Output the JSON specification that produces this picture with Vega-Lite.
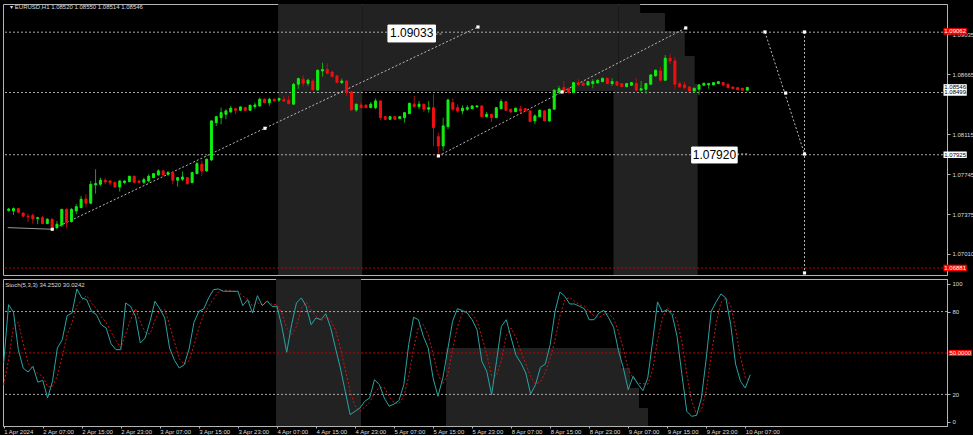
{
"$schema":"https://vega.github.io/schema/vega-lite/v6.json",
"background":"#000000",
"padding":{"left":1,"top":3,"right":0,"bottom":0},
"spacing":2,
"config":{"view":{"stroke":"#b4b4b4","strokeWidth":1},"axis":{"labelFont":"Liberation Sans","labelFontSize":6,"labelColor":"#dcdcdc","tickColor":"#b4b4b4","domainColor":"#b4b4b4","tickSize":3,"labelPadding":2,"grid":false,"title":null},"text":{"font":"Liberation Sans"}},
"datasets":{
"bars":[
{"i":0,"o":1.07411,"h":1.07434,"l":1.07398,"c":1.07425,"k":42.8,"d":27},
{"i":1,"o":1.07407,"h":1.07439,"l":1.07370,"c":1.07428,"k":85,"d":45},
{"i":2,"o":1.07428,"h":1.07434,"l":1.07388,"c":1.07395,"k":79.5,"d":69.1},
{"i":3,"o":1.07388,"h":1.07393,"l":1.07352,"c":1.07358,"k":52.4,"d":72.3},
{"i":4,"o":1.07358,"h":1.07382,"l":1.07305,"c":1.07352,"k":39,"d":57},
{"i":5,"o":1.07367,"h":1.07382,"l":1.07290,"c":1.07333,"k":36.2,"d":42.5},
{"i":6,"o":1.07336,"h":1.07352,"l":1.07284,"c":1.07345,"k":40.3,"d":38.5},
{"i":7,"o":1.07345,"h":1.07361,"l":1.07284,"c":1.07290,"k":28.8,"d":35.1},
{"i":8,"o":1.07290,"h":1.07340,"l":1.07284,"c":1.07330,"k":30.2,"d":33.1},
{"i":9,"o":1.07330,"h":1.07338,"l":1.07245,"c":1.07259,"k":17.4,"d":25.5},
{"i":10,"o":1.07253,"h":1.07315,"l":1.07238,"c":1.07284,"k":29.5,"d":25.7},
{"i":11,"o":1.07278,"h":1.07425,"l":1.07259,"c":1.07422,"k":53.6,"d":33.5},
{"i":12,"o":1.07422,"h":1.07430,"l":1.07247,"c":1.07299,"k":59.6,"d":47.6},
{"i":13,"o":1.07308,"h":1.07432,"l":1.07301,"c":1.07422,"k":77,"d":63.4},
{"i":14,"o":1.07407,"h":1.07469,"l":1.07376,"c":1.07446,"k":79,"d":71.9},
{"i":15,"o":1.07437,"h":1.07545,"l":1.07432,"c":1.07515,"k":96.4,"d":84.1},
{"i":16,"o":1.07517,"h":1.07561,"l":1.07444,"c":1.07478,"k":89.9,"d":88.4},
{"i":17,"o":1.07478,"h":1.07683,"l":1.07469,"c":1.07653,"k":88.6,"d":91.6},
{"i":18,"o":1.07647,"h":1.07791,"l":1.07566,"c":1.07659,"k":80.2,"d":86.2},
{"i":19,"o":1.07653,"h":1.07714,"l":1.07635,"c":1.07690,"k":77.8,"d":82.2},
{"i":20,"o":1.07690,"h":1.07708,"l":1.07653,"c":1.07674,"k":70.5,"d":76.2},
{"i":21,"o":1.07683,"h":1.07690,"l":1.07644,"c":1.07665,"k":68.1,"d":72.1},
{"i":22,"o":1.07671,"h":1.07677,"l":1.07622,"c":1.07628,"k":56.7,"d":65.1},
{"i":23,"o":1.07628,"h":1.07690,"l":1.07585,"c":1.07683,"k":52.4,"d":59.1},
{"i":24,"o":1.07668,"h":1.07690,"l":1.07653,"c":1.07683,"k":52.4,"d":53.8},
{"i":25,"o":1.07677,"h":1.07730,"l":1.07671,"c":1.07727,"k":86.2,"d":63.7},
{"i":26,"o":1.07727,"h":1.07730,"l":1.07665,"c":1.07671,"k":83.8,"d":74.1},
{"i":27,"o":1.07683,"h":1.07690,"l":1.07665,"c":1.07671,"k":76.6,"d":82.2},
{"i":28,"o":1.07671,"h":1.07714,"l":1.07653,"c":1.07695,"k":57.2,"d":72.5},
{"i":29,"o":1.07683,"h":1.07745,"l":1.07668,"c":1.07727,"k":60.9,"d":64.9},
{"i":30,"o":1.07714,"h":1.07757,"l":1.07708,"c":1.07751,"k":73,"d":63.7},
{"i":31,"o":1.07739,"h":1.07791,"l":1.07730,"c":1.07776,"k":87.5,"d":73.8},
{"i":32,"o":1.07776,"h":1.07782,"l":1.07727,"c":1.07739,"k":81.9,"d":80.8},
{"i":33,"o":1.07745,"h":1.07776,"l":1.07730,"c":1.07760,"k":75.4,"d":81.6},
{"i":34,"o":1.07760,"h":1.07776,"l":1.07653,"c":1.07690,"k":53.6,"d":70.3},
{"i":35,"o":1.07690,"h":1.07720,"l":1.07631,"c":1.07714,"k":44.7,"d":57.9},
{"i":36,"o":1.07699,"h":1.07769,"l":1.07683,"c":1.07720,"k":39.1,"d":45.8},
{"i":37,"o":1.07714,"h":1.07720,"l":1.07647,"c":1.07659,"k":41.5,"d":41.8},
{"i":38,"o":1.07668,"h":1.07769,"l":1.07662,"c":1.07760,"k":52.9,"d":44.5},
{"i":39,"o":1.07751,"h":1.07859,"l":1.07745,"c":1.07843,"k":72.2,"d":55.5},
{"i":40,"o":1.07837,"h":1.07868,"l":1.07730,"c":1.07776,"k":80.2,"d":68.4},
{"i":41,"o":1.07776,"h":1.07889,"l":1.07766,"c":1.07884,"k":81.9,"d":78.1},
{"i":42,"o":1.07877,"h":1.08241,"l":1.07868,"c":1.08237,"k":89.9,"d":84},
{"i":43,"o":1.08221,"h":1.08283,"l":1.08190,"c":1.08276,"k":95.9,"d":89.2},
{"i":44,"o":1.08267,"h":1.08359,"l":1.08206,"c":1.08313,"k":96.4,"d":94.1},
{"i":45,"o":1.08298,"h":1.08344,"l":1.08252,"c":1.08329,"k":94.7,"d":95.7},
{"i":46,"o":1.08320,"h":1.08375,"l":1.08308,"c":1.08354,"k":94.7,"d":95.3},
{"i":47,"o":1.08350,"h":1.08356,"l":1.08298,"c":1.08335,"k":94.7,"d":94.7},
{"i":48,"o":1.08335,"h":1.08370,"l":1.08329,"c":1.08366,"k":94.7,"d":94.7},
{"i":49,"o":1.08359,"h":1.08366,"l":1.08329,"c":1.08335,"k":84.3,"d":91.2},
{"i":50,"o":1.08335,"h":1.08384,"l":1.08329,"c":1.08382,"k":88.6,"d":89.2},
{"i":51,"o":1.08369,"h":1.08406,"l":1.08345,"c":1.08384,"k":79,"d":84},
{"i":52,"o":1.08375,"h":1.08451,"l":1.08369,"c":1.08437,"k":91.5,"d":86.4},
{"i":53,"o":1.08437,"h":1.08443,"l":1.08400,"c":1.08405,"k":84.3,"d":84.9},
{"i":54,"o":1.08405,"h":1.08451,"l":1.08375,"c":1.08437,"k":87.5,"d":87.8},
{"i":55,"o":1.08437,"h":1.08443,"l":1.08415,"c":1.08421,"k":83.8,"d":85.2},
{"i":56,"o":1.08428,"h":1.08451,"l":1.08412,"c":1.08443,"k":83.8,"d":85},
{"i":57,"o":1.08437,"h":1.08467,"l":1.08415,"c":1.08419,"k":69.3,"d":79},
{"i":58,"o":1.08428,"h":1.08467,"l":1.08391,"c":1.08396,"k":50.5,"d":67.9},
{"i":59,"o":1.08391,"h":1.08587,"l":1.08384,"c":1.08575,"k":70.5,"d":63.4},
{"i":60,"o":1.08575,"h":1.08636,"l":1.08532,"c":1.08627,"k":86.2,"d":69.1},
{"i":61,"o":1.08621,"h":1.08658,"l":1.08553,"c":1.08584,"k":89.9,"d":82.2},
{"i":62,"o":1.08584,"h":1.08627,"l":1.08559,"c":1.08612,"k":83.8,"d":86.6},
{"i":63,"o":1.08605,"h":1.08621,"l":1.08518,"c":1.08522,"k":70.5,"d":81.4},
{"i":64,"o":1.08522,"h":1.08710,"l":1.08516,"c":1.08704,"k":75.4,"d":76.6},
{"i":65,"o":1.08698,"h":1.08774,"l":1.08645,"c":1.08710,"k":74.1,"d":73.3},
{"i":66,"o":1.08713,"h":1.08769,"l":1.08667,"c":1.08676,"k":78.4,"d":76},
{"i":67,"o":1.08688,"h":1.08698,"l":1.08642,"c":1.08645,"k":68.5,"d":73.7},
{"i":68,"o":1.08652,"h":1.08661,"l":1.08587,"c":1.08590,"k":53.6,"d":66.8},
{"i":69,"o":1.08590,"h":1.08627,"l":1.08575,"c":1.08605,"k":39.1,"d":53.7},
{"i":70,"o":1.08605,"h":1.08612,"l":1.08467,"c":1.08498,"k":22.2,"d":38.3},
{"i":71,"o":1.08504,"h":1.08513,"l":1.08333,"c":1.08338,"k":5.3,"d":22.2},
{"i":72,"o":1.08338,"h":1.08396,"l":1.08320,"c":1.08391,"k":7.7,"d":11.7},
{"i":73,"o":1.08384,"h":1.08406,"l":1.08356,"c":1.08359,"k":10.1,"d":7.7},
{"i":74,"o":1.08382,"h":1.08391,"l":1.08356,"c":1.08359,"k":15,"d":10.9},
{"i":75,"o":1.08359,"h":1.08412,"l":1.08357,"c":1.08391,"k":17.4,"d":14.2},
{"i":76,"o":1.08359,"h":1.08443,"l":1.08345,"c":1.08421,"k":30.7,"d":21},
{"i":77,"o":1.08421,"h":1.08428,"l":1.08246,"c":1.08267,"k":27,"d":25},
{"i":78,"o":1.08276,"h":1.08283,"l":1.08246,"c":1.08252,"k":17.4,"d":25},
{"i":79,"o":1.08252,"h":1.08283,"l":1.08246,"c":1.08276,"k":11.4,"d":18.6},
{"i":80,"o":1.08276,"h":1.08283,"l":1.08246,"c":1.08252,"k":13,"d":13.9},
{"i":81,"o":1.08259,"h":1.08283,"l":1.08253,"c":1.08276,"k":15.5,"d":13.3},
{"i":82,"o":1.08267,"h":1.08320,"l":1.08221,"c":1.08313,"k":27,"d":18.5},
{"i":83,"o":1.08304,"h":1.08403,"l":1.08301,"c":1.08400,"k":56,"d":32.8},
{"i":84,"o":1.08391,"h":1.08467,"l":1.08359,"c":1.08369,"k":75.9,"d":53},
{"i":85,"o":1.08369,"h":1.08421,"l":1.08345,"c":1.08391,"k":74.1,"d":68.7},
{"i":86,"o":1.08391,"h":1.08394,"l":1.08320,"c":1.08345,"k":62.1,"d":70.7},
{"i":87,"o":1.08345,"h":1.08421,"l":1.08313,"c":1.08359,"k":53.6,"d":63.3},
{"i":88,"o":1.08359,"h":1.08483,"l":1.08006,"c":1.08175,"k":31.9,"d":49.2},
{"i":89,"o":1.08092,"h":1.08129,"l":1.07914,"c":1.08006,"k":18.6,"d":34.7},
{"i":90,"o":1.08006,"h":1.08267,"l":1.07960,"c":1.08191,"k":31.9,"d":27.5},
{"i":91,"o":1.08184,"h":1.08443,"l":1.08160,"c":1.08430,"k":52.4,"d":34.3},
{"i":92,"o":1.08405,"h":1.08443,"l":1.08329,"c":1.08345,"k":73,"d":52.4},
{"i":93,"o":1.08359,"h":1.08391,"l":1.08313,"c":1.08329,"k":82.1,"d":69.2},
{"i":94,"o":1.08329,"h":1.08382,"l":1.08298,"c":1.08354,"k":80.7,"d":78.6},
{"i":95,"o":1.08345,"h":1.08382,"l":1.08329,"c":1.08359,"k":79,"d":80.6},
{"i":96,"o":1.08350,"h":1.08378,"l":1.08345,"c":1.08375,"k":74.1,"d":77.9},
{"i":97,"o":1.08366,"h":1.08382,"l":1.08363,"c":1.08375,"k":66.9,"d":73.3},
{"i":98,"o":1.08375,"h":1.08382,"l":1.08271,"c":1.08276,"k":44,"d":61.7},
{"i":99,"o":1.08276,"h":1.08320,"l":1.08267,"c":1.08298,"k":36.7,"d":49.2},
{"i":100,"o":1.08298,"h":1.08304,"l":1.08227,"c":1.08267,"k":19.8,"d":33.5},
{"i":101,"o":1.08267,"h":1.08366,"l":1.08264,"c":1.08359,"k":44,"d":33.5},
{"i":102,"o":1.08350,"h":1.08437,"l":1.08345,"c":1.08415,"k":69.3,"d":44.4},
{"i":103,"o":1.08415,"h":1.08421,"l":1.08329,"c":1.08335,"k":74.1,"d":62.5},
{"i":104,"o":1.08345,"h":1.08347,"l":1.08313,"c":1.08320,"k":60.9,"d":68.1},
{"i":105,"o":1.08322,"h":1.08359,"l":1.08320,"c":1.08354,"k":48.3,"d":61.1},
{"i":106,"o":1.08347,"h":1.08375,"l":1.08308,"c":1.08329,"k":42.8,"d":50.7},
{"i":107,"o":1.08350,"h":1.08356,"l":1.08326,"c":1.08329,"k":35.5,"d":42.2},
{"i":108,"o":1.08329,"h":1.08335,"l":1.08227,"c":1.08230,"k":20.3,"d":32.9},
{"i":109,"o":1.08237,"h":1.08298,"l":1.08206,"c":1.08283,"k":27,"d":27.6},
{"i":110,"o":1.08276,"h":1.08341,"l":1.08271,"c":1.08335,"k":39.6,"d":29},
{"i":111,"o":1.08329,"h":1.08335,"l":1.08234,"c":1.08237,"k":42,"d":36.2},
{"i":112,"o":1.08237,"h":1.08347,"l":1.08230,"c":1.08345,"k":56,"d":45.9},
{"i":113,"o":1.08345,"h":1.08529,"l":1.08341,"c":1.08520,"k":80.2,"d":59.4},
{"i":114,"o":1.08504,"h":1.08559,"l":1.08483,"c":1.08534,"k":94.2,"d":76.8},
{"i":115,"o":1.08544,"h":1.08605,"l":1.08498,"c":1.08513,"k":91.1,"d":88.5},
{"i":116,"o":1.08534,"h":1.08544,"l":1.08492,"c":1.08498,"k":85.5,"d":90.3},
{"i":117,"o":1.08498,"h":1.08596,"l":1.08495,"c":1.08590,"k":85.5,"d":87.4},
{"i":118,"o":1.08590,"h":1.08621,"l":1.08559,"c":1.08571,"k":83.8,"d":84.9},
{"i":119,"o":1.08584,"h":1.08605,"l":1.08559,"c":1.08566,"k":82.1,"d":83.8},
{"i":120,"o":1.08569,"h":1.08605,"l":1.08562,"c":1.08599,"k":74.1,"d":80},
{"i":121,"o":1.08581,"h":1.08621,"l":1.08538,"c":1.08599,"k":74.1,"d":76.8},
{"i":122,"o":1.08587,"h":1.08618,"l":1.08581,"c":1.08612,"k":79,"d":75.7},
{"i":123,"o":1.08599,"h":1.08636,"l":1.08593,"c":1.08630,"k":80.9,"d":78},
{"i":124,"o":1.08630,"h":1.08636,"l":1.08575,"c":1.08581,"k":75.4,"d":78.4},
{"i":125,"o":1.08581,"h":1.08630,"l":1.08559,"c":1.08599,"k":68.6,"d":75},
{"i":126,"o":1.08599,"h":1.08605,"l":1.08559,"c":1.08566,"k":51.7,"d":65.2},
{"i":127,"o":1.08581,"h":1.08587,"l":1.08547,"c":1.08553,"k":39.1,"d":53.1},
{"i":128,"o":1.08553,"h":1.08587,"l":1.08547,"c":1.08581,"k":23.4,"d":38.1},
{"i":129,"o":1.08566,"h":1.08596,"l":1.08559,"c":1.08590,"k":33.1,"d":31.9},
{"i":130,"o":1.08581,"h":1.08630,"l":1.08513,"c":1.08520,"k":27.5,"d":28},
{"i":131,"o":1.08520,"h":1.08605,"l":1.08513,"c":1.08534,"k":22.7,"d":27.8},
{"i":132,"o":1.08529,"h":1.08587,"l":1.08488,"c":1.08581,"k":31.9,"d":27.4},
{"i":133,"o":1.08575,"h":1.08667,"l":1.08568,"c":1.08661,"k":58.5,"d":37.7},
{"i":134,"o":1.08652,"h":1.08710,"l":1.08645,"c":1.08704,"k":87,"d":59.1},
{"i":135,"o":1.08698,"h":1.08735,"l":1.08599,"c":1.08612,"k":79.7,"d":75.1},
{"i":136,"o":1.08612,"h":1.08845,"l":1.08608,"c":1.08815,"k":81.4,"d":82.7},
{"i":137,"o":1.08815,"h":1.08857,"l":1.08759,"c":1.08790,"k":77.8,"d":79.6},
{"i":138,"o":1.08790,"h":1.08827,"l":1.08529,"c":1.08575,"k":62.1,"d":73.8},
{"i":139,"o":1.08581,"h":1.08599,"l":1.08544,"c":1.08550,"k":34.3,"d":58.1},
{"i":140,"o":1.08569,"h":1.08599,"l":1.08529,"c":1.08544,"k":7.7,"d":34.7},
{"i":141,"o":1.08550,"h":1.08557,"l":1.08507,"c":1.08513,"k":4.1,"d":15.4},
{"i":142,"o":1.08513,"h":1.08544,"l":1.08498,"c":1.08538,"k":4.8,"d":5.5},
{"i":143,"o":1.08529,"h":1.08575,"l":1.08476,"c":1.08569,"k":17.4,"d":8.8},
{"i":144,"o":1.08566,"h":1.08590,"l":1.08559,"c":1.08584,"k":46.4,"d":22.9},
{"i":145,"o":1.08569,"h":1.08590,"l":1.08534,"c":1.08581,"k":80.2,"d":48},
{"i":146,"o":1.08569,"h":1.08596,"l":1.08566,"c":1.08590,"k":87,"d":71.2},
{"i":147,"o":1.08581,"h":1.08603,"l":1.08575,"c":1.08599,"k":92.8,"d":86.7},
{"i":148,"o":1.08590,"h":1.08596,"l":1.08559,"c":1.08569,"k":89.9,"d":89.9},
{"i":149,"o":1.08575,"h":1.08581,"l":1.08538,"c":1.08544,"k":70.5,"d":84.4},
{"i":150,"o":1.08550,"h":1.08553,"l":1.08532,"c":1.08534,"k":42,"d":67.5},
{"i":151,"o":1.08544,"h":1.08547,"l":1.08522,"c":1.08525,"k":29.5,"d":47.3},
{"i":152,"o":1.08538,"h":1.08541,"l":1.08516,"c":1.08520,"k":24.6,"d":32},
{"i":153,"o":1.08520,"h":1.08550,"l":1.08514,"c":1.08546,"k":34.25,"d":30.02}
],
"wmMain":[
{"i":55.81,"i2":73.23,"p":1.06816,"p2":1.09315},
{"i":73.23,"i2":126.3,"p":1.08513,"p2":1.09315},
{"i":125.29,"i2":142.72,"p":1.06816,"p2":1.08577},
{"i":126.3,"i2":142.1,"p":1.08577,"p2":1.08836},
{"i":126.3,"i2":140.05,"p":1.08836,"p2":1.09066},
{"i":126.3,"i2":135.95,"p":1.09066,"p2":1.09232},
{"i":126.3,"i2":130.8,"p":1.09232,"p2":1.09315}
],
"wmStoch":[
{"i":55.81,"i2":73.23,"v":-2.9,"v2":103.6},
{"i":90.66,"i2":126.52,"v":39.1,"v2":53.6},
{"i":90.66,"i2":128.37,"v":24.6,"v2":39.1},
{"i":90.66,"i2":130.21,"v":10.1,"v2":24.6},
{"i":90.66,"i2":132.06,"v":-2.9,"v2":10.1}
],
"hlines":[
{"p":1.09055,"col":"gray"},
{"p":1.08499,"col":"gray"},
{"p":1.07925,"col":"gray"},
{"p":1.06881,"col":"red"}
],
"trend":[
{"id":"a","i":9.02,"p":1.07238},{"id":"a","i":97.21,"p":1.09103},
{"id":"b","i":89.01,"p":1.07914},{"id":"b","i":140.25,"p":1.09094},
{"id":"c","i":156.65,"p":1.09057},{"id":"c","i":164.85,"p":1.07932},
{"id":"d","i":164.85,"p":1.09057},{"id":"d","i":164.85,"p":1.06835},
{"id":"e","i":88.4,"p":1.09038},{"id":"e","i":90.0,"p":1.09038},
{"id":"f","i":150.9,"p":1.07932},{"id":"f","i":153.4,"p":1.07932}
],
"solid":[
{"i":-0.2,"p":1.07253},{"i":9.02,"p":1.07238}
],
"markers":[
{"i":9.02,"p":1.07238},{"i":53.08,"p":1.08169},{"i":97.21,"p":1.09103},
{"i":89.01,"p":1.07914},{"i":114.63,"p":1.08504},{"i":140.25,"p":1.09094},
{"i":156.65,"p":1.09057},{"i":160.95,"p":1.08494},{"i":164.85,"p":1.07932},
{"i":164.85,"p":1.09057},{"i":164.85,"p":1.06835}
],
"callouts":[
{"i":78.56,"i2":88.4,"p":1.08965,"p2":1.09121,"t":"1.09033"},
{"i":141.48,"i2":150.9,"p":1.07849,"p2":1.07996,"t":"1.07920"}
],
"pboxes":[
{"p":1.09062,"t":"1.09062","col":"red"},
{"p":1.08546,"t":"1.08546","col":"white"},
{"p":1.08499,"t":"1.08499","col":"white"},
{"p":1.07925,"t":"1.07925","col":"white"},
{"p":1.06881,"t":"1.06881","col":"red"}
],
"titles":[{"i":0.3,"p":1.09285,"t":"▾ EURUSD,H1  1.08520 1.08550 1.08514 1.08546"}],
"stochTitle":[{"i":0.3,"v":99.5,"t":"Stoch(5,3,3) 34.2520 30.0242"}],
"levels":[{"v":80,"col":"gray"},{"v":20,"col":"gray"},{"v":50,"col":"red"}],
"sbox":[{"v":50,"t":"50.0000"}]
},
"vconcat":[
{
"width":944,"height":271,
"layer":[
{"data":{"name":"wmMain"},"mark":{"type":"rect","color":"#222222"},
 "encoding":{"x":{"field":"i","type":"quantitative","scale":{"domain":[-0.143,193.33],"nice":false,"zero":false},"axis":null},"x2":{"field":"i2"},
 "y":{"field":"p","type":"quantitative","scale":{"domain":[1.06816,1.09315],"nice":false,"zero":false},
   "axis":{"orient":"right","values":[1.0701,1.0719,1.07375,1.0756,1.07745,1.07925,1.08115,1.08295,1.08665,1.0885,1.09035,1.0922],"format":".5f"}},"y2":{"field":"p2"}}},
{"data":{"name":"hlines"},"mark":{"type":"rule","strokeDash":[2,2],"strokeWidth":1},
 "encoding":{"y":{"field":"p","type":"quantitative"},"color":{"condition":{"test":"datum.col==='red'","value":"#c00000"},"value":"#a8a8a8"}}},
{"data":{"name":"solid"},"mark":{"type":"line","color":"#9a9a9a","strokeWidth":1},
 "encoding":{"x":{"field":"i","type":"quantitative"},"y":{"field":"p","type":"quantitative"}}},
{"data":{"name":"trend"},"mark":{"type":"line","color":"#b8b8b8","strokeWidth":1,"strokeDash":[2,2]},
 "encoding":{"x":{"field":"i","type":"quantitative"},"y":{"field":"p","type":"quantitative"},"detail":{"field":"id"}}},
{"data":{"name":"bars"},"mark":{"type":"rule","strokeWidth":1},
 "encoding":{"x":{"field":"i","type":"quantitative"},"y":{"field":"l","type":"quantitative"},"y2":{"field":"h"},
 "color":{"condition":{"test":"datum.c>=datum.o","value":"#12a812"},"value":"#b80c0c"}}},
{"data":{"name":"bars"},"mark":{"type":"bar","width":2,"strokeWidth":1},
 "encoding":{"x":{"field":"i","type":"quantitative"},"y":{"field":"o","type":"quantitative"},"y2":{"field":"c"},
 "fill":{"condition":{"test":"datum.c>=datum.o","value":"#10ee10"},"value":"#ee1010"},
 "stroke":{"condition":{"test":"datum.c>=datum.o","value":"#10ee10"},"value":"#ee1010"}}},
{"data":{"name":"markers"},"mark":{"type":"point","shape":"square","filled":true,"size":10,"color":"#ffffff","opacity":1},
 "encoding":{"x":{"field":"i","type":"quantitative"},"y":{"field":"p","type":"quantitative"}}},
{"data":{"name":"callouts"},"mark":{"type":"rect","fill":"#ffffff","stroke":"#ffffff","strokeWidth":1},
 "encoding":{"x":{"field":"i","type":"quantitative"},"x2":{"field":"i2"},"y":{"field":"p","type":"quantitative"},"y2":{"field":"p2"}}},
{"data":{"name":"callouts"},"mark":{"type":"text","fontSize":12,"color":"#000000","baseline":"middle","align":"center"},
 "transform":[{"calculate":"(datum.i+datum.i2)/2","as":"ic"},{"calculate":"(datum.p+datum.p2)/2","as":"pc"}],
 "encoding":{"x":{"field":"ic","type":"quantitative"},"y":{"field":"pc","type":"quantitative"},"text":{"field":"t"}}},
{"data":{"name":"pboxes"},"mark":{"type":"rect","clip":false},
 "transform":[{"calculate":"datum.p-0.0003","as":"pa"},{"calculate":"datum.p+0.0003","as":"pb"}],
 "encoding":{"x":{"datum":193.64},"x2":{"datum":198.46},"y":{"field":"pa","type":"quantitative"},"y2":{"field":"pb"},
 "fill":{"condition":{"test":"datum.col==='red'","value":"#ff0000"},"value":"#ffffff"}}},
{"data":{"name":"pboxes"},"mark":{"type":"text","fontSize":6,"align":"center","baseline":"middle","clip":false},
 "encoding":{"x":{"datum":196.05},"y":{"field":"p","type":"quantitative"},"text":{"field":"t"},
 "color":{"condition":{"test":"datum.col==='red'","value":"#ffffff"},"value":"#000000"}}},
{"data":{"name":"titles"},"mark":{"type":"text","fontSize":6,"align":"left","baseline":"middle","color":"#dcdcdc"},
 "encoding":{"x":{"field":"i","type":"quantitative"},"y":{"field":"p","type":"quantitative"},"text":{"field":"t"}}}
]
},
{
"width":944,"height":147,
"layer":[
{"data":{"name":"wmStoch"},"mark":{"type":"rect","color":"#222222"},
 "encoding":{"x":{"field":"i","type":"quantitative","scale":{"domain":[-0.143,193.33],"nice":false,"zero":false},
   "axis":{"values":[0,8,16,24,32,40,48,56,64,72,80,88,96,104,112,120,128,136,144,152],"labelAlign":"left","labelOverlap":false,"labelFlush":false,"labelPadding":0,"tickSize":2,
   "labelExpr":"['1 Apr 2024','2 Apr 07:00','2 Apr 15:00','2 Apr 23:00','3 Apr 07:00','3 Apr 15:00','3 Apr 23:00','4 Apr 07:00','4 Apr 15:00','4 Apr 23:00','5 Apr 07:00','5 Apr 15:00','5 Apr 23:00','8 Apr 07:00','8 Apr 15:00','8 Apr 23:00','9 Apr 07:00','9 Apr 15:00','9 Apr 23:00','10 Apr 07:00'][round(datum.value/8)]"}},
 "x2":{"field":"i2"},
 "y":{"field":"v","type":"quantitative","scale":{"domain":[-2.9,103.6],"nice":false,"zero":false},"axis":{"orient":"right","values":[0,20,80,100],"format":"d"}},"y2":{"field":"v2"}}},
{"data":{"name":"levels"},"mark":{"type":"rule","strokeDash":[2,2],"strokeWidth":1},
 "encoding":{"y":{"field":"v","type":"quantitative"},"color":{"condition":{"test":"datum.col==='red'","value":"#c00000"},"value":"#a8a8a8"}}},
{"data":{"name":"bars"},"mark":{"type":"line","color":"#d01414","strokeWidth":1,"strokeDash":[2,2]},
 "encoding":{"x":{"field":"i","type":"quantitative"},"y":{"field":"d","type":"quantitative"}}},
{"data":{"name":"bars"},"mark":{"type":"line","color":"#2aa3a3","strokeWidth":1},
 "encoding":{"x":{"field":"i","type":"quantitative"},"y":{"field":"k","type":"quantitative"}}},
{"data":{"name":"sbox"},"mark":{"type":"rect","clip":false,"fill":"#ff0000"},
 "transform":[{"calculate":"datum.v-2.2","as":"va"},{"calculate":"datum.v+2.2","as":"vb"}],
 "encoding":{"x":{"datum":193.64},"x2":{"datum":198.46},"y":{"field":"va","type":"quantitative"},"y2":{"field":"vb"}}},
{"data":{"name":"sbox"},"mark":{"type":"text","fontSize":6,"align":"center","baseline":"middle","clip":false,"color":"#ffffff"},
 "encoding":{"x":{"datum":196.05},"y":{"field":"v","type":"quantitative"},"text":{"field":"t"}}},
{"data":{"name":"stochTitle"},"mark":{"type":"text","fontSize":6,"align":"left","baseline":"middle","color":"#dcdcdc"},
 "encoding":{"x":{"field":"i","type":"quantitative"},"y":{"field":"v","type":"quantitative"},"text":{"field":"t"}}}
]
}
]
}
